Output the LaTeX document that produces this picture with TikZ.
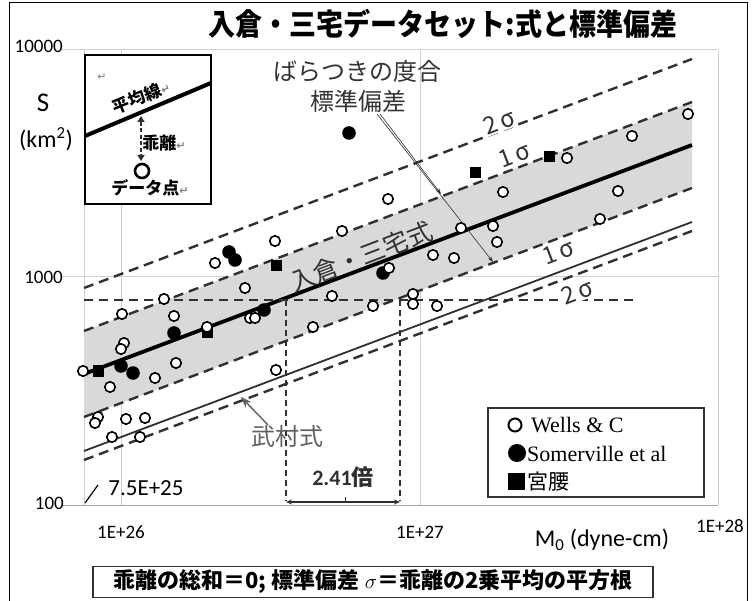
\documentclass[tikz,border=0pt]{standalone}
\usepackage{fontspec}
\setmainfont{Carlito}
\newfontfamily\jp{Noto Sans CJK JP}
\newfontfamily\serif{Liberation Serif}
\newfontfamily\dv{DejaVu Sans}
\usetikzlibrary{arrows.meta}
\definecolor{gridc}{HTML}{D0D0D0}
\definecolor{axisc}{HTML}{A6A6A6}
\definecolor{bandc}{HTML}{D9D9D9}
\definecolor{dk}{HTML}{303030}
\definecolor{lbl}{HTML}{333333}
\tikzset{
  grid/.style={gridc, line width=1pt},
  dashline/.style={dk, line width=2.4pt, dash pattern=on 10pt off 6pt},
  meanline/.style={black, line width=3.8pt},
  oc/.style={draw=black, fill=white, line width=1.6pt},
  fc/.style={fill=black},
  sq/.style={fill=black},
  thinarrow/.style={dk, line width=0.6pt, -{Stealth[length=6pt,width=4pt]}},
  axlbl/.style={font=\fontsize{19}{19}\selectfont, inner sep=0pt},
  siglbl/.style={font=\jp\fontsize{24}{24}\selectfont, lbl, rotate=21, inner sep=1pt, fill=white},
}
\begin{document}
\begin{tikzpicture}[x=1pt,y=-1pt]
\useasboundingbox (0,0) rectangle (752,601);
\fill[white] (0,0) rectangle (752,601);
% outer frame
\draw[black, line width=1pt] (9,601) -- (9,3) -- (747,3) -- (747,601);
% title
\node (title) at (443,24) {\scalebox{0.9}[1]{\jp\bfseries\fontsize{30}{30}\selectfont 入倉・三宅データセット:式と標準偏差}};
% grid
\draw[grid] (62,50) -- (718,50);
\draw[grid] (62,277) -- (718,277);
\draw[axisc, line width=1pt] (62,505) -- (718,505);
\draw[grid] (84,50) -- (84,505);
\draw[grid] (121.6,50) -- (121.6,505);
\draw[grid] (420,50) -- (420,505);
\draw[grid] (718,50) -- (718,505);
% axis labels
\node[axlbl, anchor=east] (y4) at (63,46) {10000};
\node[axlbl, anchor=east] (y3) at (63,277) {1000};
\node[axlbl, anchor=east] (y2) at (64,503) {100};
\node[font=\fontsize{27}{27}\selectfont] (S) at (43,103) {S};
\node[font=\fontsize{24}{24}\selectfont] (km) at (46,139) {(km\textsuperscript{2})};
\node[axlbl] (x26) at (121,532) {1E+26};
\node[axlbl] (x27) at (420,532) {1E+27};
\node[axlbl] (x28) at (720,526) {1E+28};
\node[font=\fontsize{24}{24}\selectfont] (m0) at (602,540) {M\textsubscript{0} (dyne-cm)};
\node[font=\fontsize{23}{23}\selectfont] (x75) at (146,488) {7.5E+25};
\draw[black, line width=1.2pt] (85,503) -- (98,485);
% band
\fill[bandc] (84,331) -- (692,102) -- (692,188) -- (84,417) -- cycle;
% lines
\draw[dashline] (84,288) -- (692,59);
\draw[dashline] (84,331) -- (692,102);
\draw[dashline] (84,417) -- (692,188);
\draw[dashline] (84,460) -- (692,231);
\draw[dk, line width=1.8pt] (84,451) -- (692,222);
\draw[meanline] (84,374) -- (692,145);
% 800 km2 construction
\draw[dk, line width=1.6pt, dash pattern=on 9pt off 6pt] (84,300) -- (637,300);
\draw[dk, line width=1.1pt, dash pattern=on 6pt off 4pt] (286,300) -- (286,501);
\draw[dk, line width=1.1pt, dash pattern=on 6pt off 4pt] (400,300) -- (400,501);
\coordinate (a1) at (286,502);
\coordinate (a2) at (400,502);
\draw[dk, line width=1.2pt, {Stealth[length=6pt,width=5pt]}-{Stealth[length=6pt,width=5pt]}] (a1) -- (a2);
\draw[dk, line width=1pt] (345,502) -- (345,497);
\node[font=\fontsize{22}{22}\selectfont\bfseries, dk] (ratio) at (343,477) {2.41{\jp 倍}};
% sigma labels
\node[siglbl] (s2u) at (499,122) {2\,σ};
\node[siglbl] (s1u) at (514,155) {1\,σ};
\node[siglbl] (s1l) at (558,252) {1\,σ};
\node[siglbl] (s2l) at (577,292) {2\,σ};
% mean label
\node[font=\jp\fontsize{25}{25}\selectfont, dk, rotate=21] (irik) at (361,257) {入倉・三宅式};
% Takemura label
\node[font=\jp\fontsize{24}{24}\selectfont, color=black!62] (take) at (287,436) {武村式};
\coordinate (tk) at (241,397);
\draw[black!62, line width=1.4pt, -{Stealth[length=11pt,width=8pt]}] (268,425) -- (tk);
% dispersion labels
\node[font=\jp\fontsize{24}{24}\selectfont, lbl] (bara) at (357,71) {ばらつきの度合};
\node[font=\jp\fontsize{24}{24}\selectfont, lbl] (hyo) at (358,101) {標準偏差};
\coordinate (u1) at (441,194);
\coordinate (l1) at (493,262);
\draw[thinarrow] (380,114) -- (u1);
\draw[thinarrow] (377,114) -- (l1);
% data: filled circles and squares
\foreach \x/\y in {121/366,133/373,174/333,229/252,235/260,264/310,349/133,383/273}
  \fill[fc] (\x,\y) circle[radius=6.8pt];
\foreach \x/\y in {98/371,207/333,276/266,475/173,549/157}
  \fill[sq] ({\x-5.5},{\y-5.5}) rectangle ({\x+5.5},{\y+5.5});
% open circles
\foreach \x/\y in {83/371,110/387,98/417,95/423,126/419,145/418,112/437,140/437,
  122/314,124/343,121/349,164/299,174/316,176/363,155/378,
  207/327,215/263,245/288,250/318,255/318,275/241,276/370,
  313/327,332/296,342/231,373/306,388/199,389/268,413/294,413/304,437/306,
  433/255,454/258,461/228,493/226,497/242,503/192,567/158,600/219,618/191,632/136,688/114}
  \draw[oc] (\x,\y) circle[radius=5.2pt];
% inset
\draw[black, line width=1.2pt, fill=white] (85,55) rectangle (211,204);
\draw[black, line width=4pt] (85,136) -- (211,83);
\node[font=\dv\fontsize{11}{11}\selectfont, gray] (r0) at (102,77) {↵};
\node[font=\jp\bfseries\fontsize{17}{17}\selectfont, rotate=22.5] (avg) at (141,97) {平均線{\color{gray}\dv\fontsize{11}{11}\selectfont ↵}};
\coordinate (i1) at (141,116);
\coordinate (i2) at (141,161);
\draw[dk, line width=2pt, dash pattern=on 4pt off 2.5pt, {Triangle[length=6pt,width=7pt]}-{Triangle[length=6pt,width=7pt]}] (i1) -- (i2);
\node[font=\jp\bfseries\fontsize{17}{17}\selectfont] (kairi) at (164,143) {乖離{\color{gray}\dv\fontsize{11}{11}\selectfont ↵}};
\draw[black, line width=2.6pt] (142,171) circle[radius=7pt];
\node[font=\jp\bfseries\fontsize{17}{17}\selectfont] (dp) at (150,188) {データ点{\color{gray}\dv\fontsize{11}{11}\selectfont ↵}};
% legend
\draw[black!80, line width=1.2pt, fill=white] (488,408) rectangle (704,497);
\draw[black, line width=2pt] (515,425) circle[radius=6.5pt];
\fill[black] (517,453) circle[radius=9pt];
\fill[black] (508,473) rectangle (525,490);
\node[font=\serif\fontsize{22}{22}\selectfont, anchor=west, inner sep=0pt] (lw) at (531,425) {Wells \& C};
\node[font=\serif\fontsize{22}{22}\selectfont, anchor=west, inner sep=0pt] (ls) at (527,454) {Somerville et al};
\node[font=\jp\fontsize{21}{21}\selectfont, anchor=west, inner sep=0pt] (lm) at (527,482) {宮腰};
% bottom box
\node[draw=dk, line width=1.5pt, minimum width=560pt, minimum height=31pt, inner sep=0pt, font=\jp\bfseries\fontsize{22}{22}\selectfont] (note) at (373,582) {乖離の総和＝0;\ 標準偏差\ $\sigma$＝乖離の2乗平均の平方根};
\end{tikzpicture}
\end{document}
